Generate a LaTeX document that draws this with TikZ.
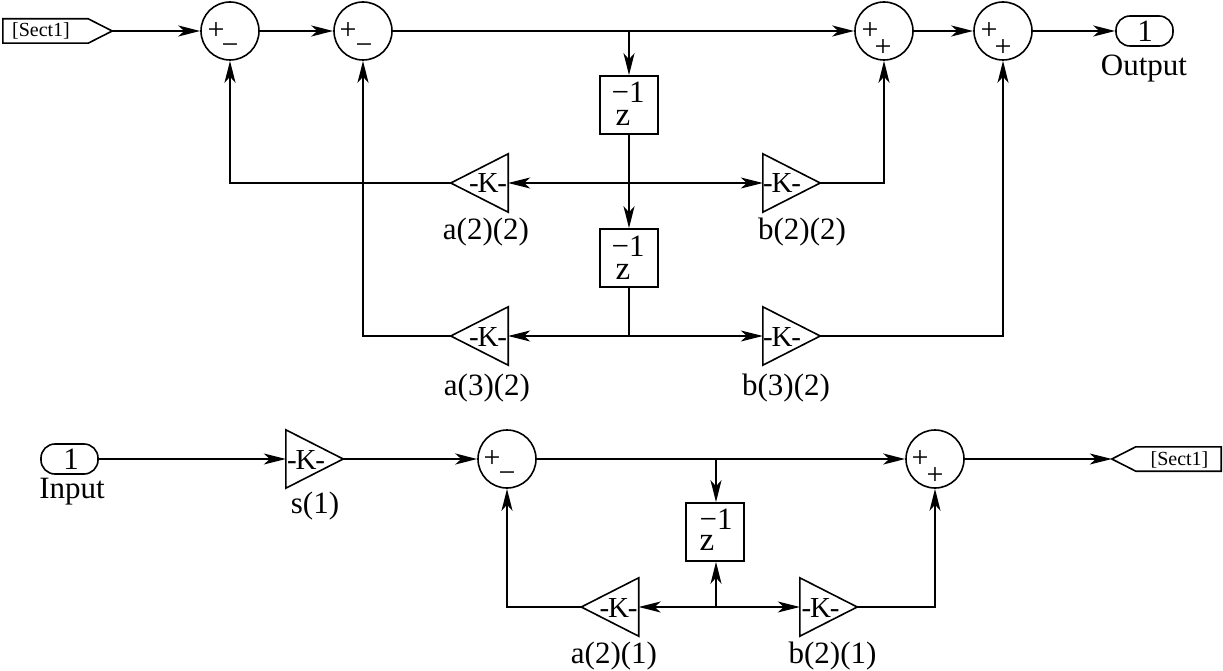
\documentclass[tikz,border=0pt]{standalone}
\usepackage{fontspec}
\setmainfont{Liberation Serif}
\usetikzlibrary{arrows.meta,calc}
\newcommand{\fs}[1]{\fontsize{#1}{#1}\selectfont}
\newcommand{\gaintext}{-\kern-1.2pt K\kern-1.2pt -}
\tikzset{
  x=1pt,y=-1pt,
  line width=1.5pt,
  wire/.style={line width=1.5pt,-{Stealth[length=22pt,width=11pt,inset=6pt]}},
  plain/.style={line width=1.5pt},
  sumnode/.style={circle,draw,line width=1.6pt,minimum size=58pt,inner sep=0pt},
  delaybox/.style={rectangle,draw,line width=1.6pt,minimum size=58pt,inner sep=0pt},
  gainright/.style={rectangle,minimum width=57pt,minimum height=58pt,inner sep=0pt,
    append after command={\pgfextra{\draw[line width=1.6pt,line join=miter] (\tikzlastnode.north west)--(\tikzlastnode.east)--(\tikzlastnode.south west)--cycle;}}},
  gainleft/.style={rectangle,minimum width=57pt,minimum height=58pt,inner sep=0pt,
    append after command={\pgfextra{\draw[line width=1.6pt,line join=miter] (\tikzlastnode.north east)--(\tikzlastnode.west)--(\tikzlastnode.south east)--cycle;}}},
  gotobox/.style={rectangle,minimum width=109pt,minimum height=24pt,inner sep=0pt,
    append after command={\pgfextra{\draw[line width=1.6pt] (\tikzlastnode.north west)--([xshift=-24pt]\tikzlastnode.north east)--(\tikzlastnode.east)--([xshift=-24pt]\tikzlastnode.south east)--(\tikzlastnode.south west)--cycle;}}},
  frombox/.style={rectangle,minimum width=109pt,minimum height=24pt,inner sep=0pt,
    append after command={\pgfextra{\draw[line width=1.6pt] (\tikzlastnode.north east)--([xshift=24pt]\tikzlastnode.north west)--(\tikzlastnode.west)--([xshift=24pt]\tikzlastnode.south west)--(\tikzlastnode.south east)--cycle;}}},
  port/.style={rectangle,rounded corners=14pt,draw,line width=1.6pt,minimum width=57pt,minimum height=30pt,inner sep=0pt},
  lbl/.style={inner sep=0pt,anchor=base,font=\fs{31}},
  numlbl/.style={inner sep=0pt,anchor=base,font=\fs{31}},
  zlbl/.style={inner sep=0pt,anchor=base,font=\fs{33}},
  klbl/.style={inner sep=0pt,anchor=base,font=\fs{29}},
  sgn/.style={inner sep=0pt,font=\fs{30}},
  tag/.style={inner sep=0pt,anchor=base,font=\fs{20}},
}
\begin{document}
\begin{tikzpicture}
\useasboundingbox (0,0) rectangle (1223,671);
% upper section
\node[gotobox] (go) at (57.5,31) {};
\node[tag] (golbl) at (41,37) {[Sect1]};
\node[sumnode] (s1) at (230,31) {};
\node[sumnode] (s2) at (363,31) {};
\node[sumnode] (s3) at (884,31) {};
\node[sumnode] (s4) at (1003,31) {};
\node[port] (out) at (1144.5,31) {};
\node[numlbl] (outn) at (1145,42) {1};
\node[lbl] (outl) at (1144,76) {Output};
\node[sgn] (p1a) at (216,31) {+};
\node[sgn] (m1a) at (230,49) {−};
\node[sgn] (p2a) at (348,31) {+};
\node[sgn] (m2a) at (364,49) {−};
\node[sgn] (p3a) at (870,31) {+};
\node[sgn] (p3b) at (883,48) {+};
\node[sgn] (p4a) at (989,31) {+};
\node[sgn] (p4b) at (1003,48) {+};
\coordinate (j1) at (629,31);
\node[delaybox] (d1) at (629,105) {};
\node[numlbl] (d1a) at (628,103) {−1};
\node[zlbl] (d1b) at (623,126) {z};
\node[delaybox] (d2) at (629,258) {};
\node[numlbl] (d2a) at (628,256) {−1};
\node[zlbl] (d2b) at (623,279) {z};
\coordinate (j2) at (629,183);
\coordinate (j3) at (629,336);
\node[gainleft] (a22) at (479.5,183) {};
\node[klbl] (a22k) at (488,193) {\gaintext};
\node[lbl] (a22l) at (486,239) {a(2)(2)};
\node[gainright] (b22) at (791.5,183) {};
\node[klbl] (b22k) at (782,193) {\gaintext};
\node[lbl] (b22l) at (802,239) {b(2)(2)};
\node[gainleft] (a32) at (479.5,336) {};
\node[klbl] (a32k) at (488,346) {\gaintext};
\node[lbl] (a32l) at (487,395) {a(3)(2)};
\node[gainright] (b32) at (791.5,336) {};
\node[klbl] (b32k) at (782,346) {\gaintext};
\node[lbl] (b32l) at (786,395) {b(3)(2)};
% lower section
\node[port] (in) at (69.5,459) {};
\node[numlbl] (inn) at (71,469) {1};
\node[lbl] (inl) at (72,498) {Input};
\node[gainright] (g1) at (314.5,459) {};
\node[klbl] (g1k) at (306,469) {\gaintext};
\node[lbl] (g1l) at (315,513) {s(1)};
\node[sumnode] (s5) at (507,459) {};
\node[sumnode] (s6) at (935,459) {};
\node[sgn] (p5a) at (492,459) {+};
\node[sgn] (m5a) at (507,477) {−};
\node[sgn] (p6a) at (920,459) {+};
\node[sgn] (p6b) at (935,476) {+};
\node[frombox] (fr) at (1166.5,459) {};
\node[tag] (frlbl) at (1179.5,465) {[Sect1]};
\coordinate (j4) at (716,459);
\coordinate (j5) at (716,607);
\node[delaybox] (d3) at (715,532) {};
\node[numlbl] (d3a) at (716,529) {−1};
\node[zlbl] (d3b) at (707,550) {z};
\node[gainleft] (a21) at (610,607) {};
\node[klbl] (a21k) at (618.5,617.5) {\gaintext};
\node[lbl] (a21l) at (614,663) {a(2)(1)};
\node[gainright] (b21) at (828.5,607) {};
\node[klbl] (b21k) at (820.5,617.5) {\gaintext};
\node[lbl] (b21l) at (832.5,663) {b(2)(1)};
% connectors upper
\draw[wire] (go.east) -- (s1.west);
\draw[wire] (s1.east) -- (s2.west);
\draw[wire] (s2.east) -- (s3.west);
\draw[wire] (s3.east) -- (s4.west);
\draw[wire] (s4.east) -- (out.west);
\draw[wire] (j1) -- (d1.north);
\draw[wire] (d1.south) -- (d2.north);
\draw[plain] (d2.south) -- (j3);
\draw[wire] (j2) -- (a22.east);
\draw[wire] (j2) -- (b22.west);
\draw[wire] (j3) -- (a32.east);
\draw[wire] (j3) -- (b32.west);
\draw[wire] (a22.west) -| (s1.south);
\draw[wire] (a32.west) -| (s2.south);
\draw[wire] (b22.east) -| (s3.south);
\draw[wire] (b32.east) -| (s4.south);
% connectors lower
\draw[wire] (in.east) -- (g1.west);
\draw[wire] (g1.east) -- (s5.west);
\draw[wire] (s5.east) -- (s6.west);
\draw[wire] (s6.east) -- (fr.west);
\draw[wire] (j4) -- (d3.north-|j4);
\draw[wire] (j5) -- (d3.south-|j5);
\draw[wire] (j5) -- (a21.east);
\draw[wire] (j5) -- (b21.west);
\draw[wire] (a21.west) -| (s5.south);
\draw[wire] (b21.east) -| (s6.south);
\end{tikzpicture}
\end{document}
